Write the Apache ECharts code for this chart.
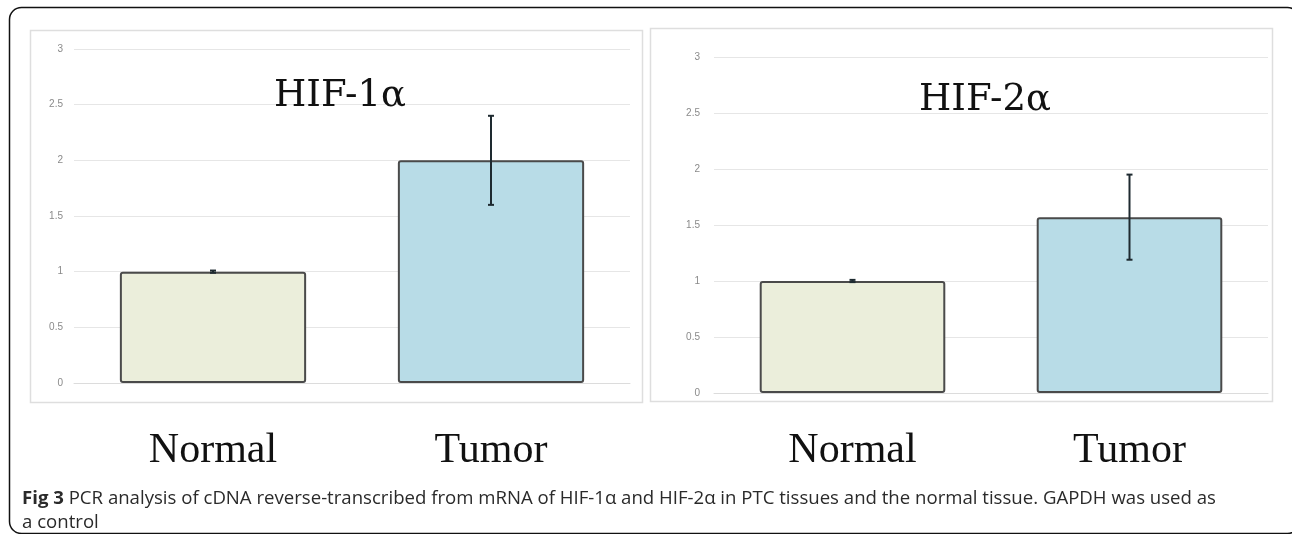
<!DOCTYPE html>
<html>
<head>
<meta charset="utf-8">
<style>
html,body{margin:0;padding:0;background:#fff;}
#chart{width:1292px;height:534px;}
</style>
<script src="https://cdn.jsdelivr.net/npm/echarts@6/dist/echarts.min.js"></script>
</head>
<body>
<div id="chart"></div>
<script>
// ---- data ----
const categories = ['Normal', 'Tumor'];
const hif1Values = [1.0, 2.0];
const hif1Errors = [0.01, 0.40];
const hif2Values = [1.0, 1.57];
const hif2Errors = [0.01, 0.38];
const panelTitles = ['HIF-1\u03b1', 'HIF-2\u03b1'];
const barColors = ['#ebeedb', '#b8dce7'];
const yMin = 0, yMax = 3, yStep = 0.5;
const captionBold = 'Fig 3';
const captionLine1 = ' PCR analysis of cDNA reverse-transcribed from mRNA of HIF-1\u03b1 and HIF-2\u03b1 in PTC tissues and the normal tissue. GAPDH was used as';
const captionLine2 = 'a control';

const chart = echarts.init(document.getElementById('chart'), null, {renderer: 'canvas'});

function barData(vals) {
  return vals.map((v, i) => ({
    value: v,
    itemStyle: {color: barColors[i], borderColor: '#4a4a4a', borderWidth: 2, borderRadius: 2}
  }));
}
function errData(vals, errs) {
  return vals.map((v, i) => [i, v, errs[i]]);
}
function errRender(params, api) {
  const i = api.value(0), v = api.value(1), e = api.value(2);
  const top = api.coord([i, v + e]);
  const bot = api.coord([i, v - e]);
  const cap = 3;
  const st = {stroke: '#1e2a30', lineWidth: 2};
  return {
    type: 'group',
    children: [
      {type: 'line', shape: {x1: top[0], y1: top[1], x2: bot[0], y2: bot[1]}, style: st},
      {type: 'line', shape: {x1: top[0] - cap, y1: top[1], x2: top[0] + cap, y2: top[1]}, style: st},
      {type: 'line', shape: {x1: bot[0] - cap, y1: bot[1], x2: bot[0] + cap, y2: bot[1]}, style: st}
    ]
  };
}

const yAxisCommon = {
  type: 'value', min: yMin, max: yMax, interval: yStep,
  axisLine: {show: false}, axisTick: {show: false},
  axisLabel: {color: '#8a8a8a', fontSize: 10, fontFamily: 'Liberation Sans'},
  splitLine: {lineStyle: {color: '#e6e6e6', width: 1}}
};
const xAxisCommon = {
  type: 'category', data: categories,
  axisTick: {show: false},
  axisLine: {lineStyle: {color: '#dcdcdc', width: 1}},
  axisLabel: {color: '#111', fontSize: 42, fontFamily: 'Liberation Serif', verticalAlign: 'top'}
};

const option = {
  animation: false,
  backgroundColor: '#fff',
  grid: [
    {left: 74, top: 49, width: 556, height: 334},
    {left: 714, top: 57, width: 554, height: 336}
  ],
  xAxis: [
    Object.assign({}, xAxisCommon, {gridIndex: 0, axisLabel: Object.assign({}, xAxisCommon.axisLabel, {margin: 47})}),
    Object.assign({}, xAxisCommon, {gridIndex: 1, axisLabel: Object.assign({}, xAxisCommon.axisLabel, {margin: 37})})
  ],
  yAxis: [
    Object.assign({}, yAxisCommon, {gridIndex: 0, axisLabel: Object.assign({}, yAxisCommon.axisLabel, {margin: 11})}),
    Object.assign({}, yAxisCommon, {gridIndex: 1, axisLabel: Object.assign({}, yAxisCommon.axisLabel, {margin: 14})})
  ],
  series: [
    {type: 'bar', xAxisIndex: 0, yAxisIndex: 0, data: barData(hif1Values), barCategoryGap: '33%'},
    {type: 'custom', xAxisIndex: 0, yAxisIndex: 0, data: errData(hif1Values, hif1Errors), renderItem: errRender, z: 5},
    {type: 'bar', xAxisIndex: 1, yAxisIndex: 1, data: barData(hif2Values), barCategoryGap: '33%'},
    {type: 'custom', xAxisIndex: 1, yAxisIndex: 1, data: errData(hif2Values, hif2Errors), renderItem: errRender, z: 5}
  ],
  graphic: [
    {type: 'rect', z: -10, silent: true, shape: {x: 9.5, y: 7.5, width: 1290, height: 526, r: 12},
      style: {fill: 'none', stroke: '#111', lineWidth: 1.5}},
    {type: 'rect', z: -5, silent: true, shape: {x: 30.5, y: 30.5, width: 612, height: 372},
      style: {fill: 'none', stroke: '#dedede', lineWidth: 1.5}},
    {type: 'rect', z: -5, silent: true, shape: {x: 650.5, y: 28.5, width: 622, height: 373},
      style: {fill: 'none', stroke: '#dedede', lineWidth: 1.5}},
    {type: 'text', z: 10, left: 274, top: 78,
      style: {text: panelTitles[0], font: '37px "DejaVu Serif"', fill: '#111'}},
    {type: 'text', z: 10, left: 919, top: 82,
      style: {text: panelTitles[1], font: '37px "DejaVu Serif"', fill: '#111'}},
    {type: 'text', z: 10, left: 22, top: 487,
      style: {
        text: '{b|' + captionBold + '}' + captionLine1 + '\n' + captionLine2,
        font: '18.6px "Open Sans"', fill: '#2a2a2a', lineHeight: 24,
        rich: {b: {fontWeight: 'bold', fontSize: 18.6, fontFamily: 'Open Sans', fill: '#2a2a2a', lineHeight: 24}}
      }}
  ]
};
chart.setOption(option);
</script>
</body>
</html>
